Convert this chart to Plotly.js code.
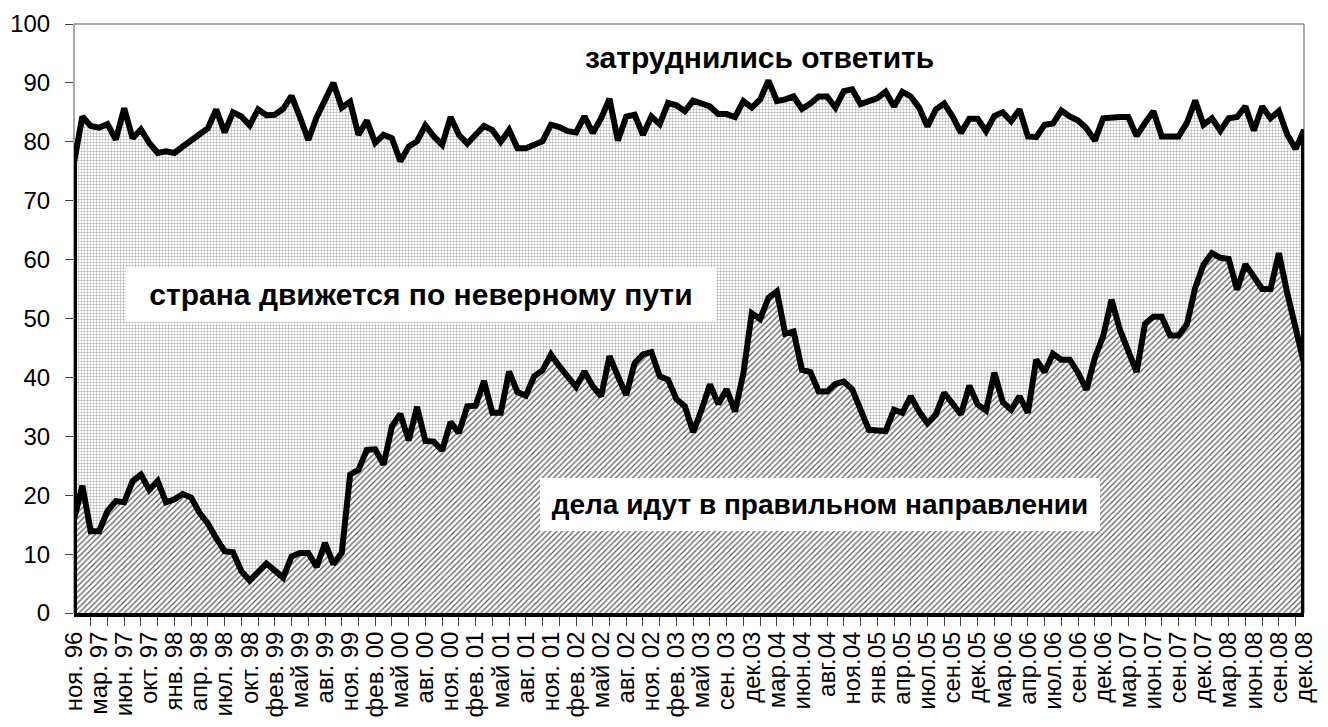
<!DOCTYPE html>
<html>
<head>
<meta charset="utf-8">
<script src="https://cdn.plot.ly/plotly-3.0.1.min.js"></script>
<style>
  html, body { margin: 0; padding: 0; background: #fff; }
  #chart { width: 1328px; height: 727px; }
</style>
</head>
<body>
<div id="chart"></div>
<script>
// one label every 3rd survey wave
const tickLabels = [
  'ноя. 96', 'мар. 97', 'июн. 97', 'окт. 97', 'янв. 98', 'апр. 98', 'июл. 98', 'окт. 98',
  'фев. 99', 'май 99', 'авг. 99', 'ноя. 99', 'фев. 00', 'май 00', 'авг. 00', 'ноя. 00',
  'фев. 01', 'май 01', 'авг. 01', 'ноя. 01', 'фев. 02', 'май 02', 'авг. 02', 'ноя. 02',
  'фев. 03', 'май 03', 'сен. 03', 'дек.03', 'мар.04', 'июн.04', 'авг.04', 'ноя.04',
  'янв.05', 'апр.05', 'июл.05', 'сен.05', 'дек.05', 'мар.06', 'апр.06', 'июл.06',
  'сен.06', 'дек.06', 'мар.07', 'июн.07', 'сен.07', 'дек.07', 'мар.08', 'июн.08',
  'сен.08', 'дек.08'
];

// "дела идут в правильном направлении", %
const right = [
  15.9, 21.6, 13.9, 13.9, 17.3, 19.0, 18.8, 22.4, 23.5, 20.9, 22.4, 18.8, 19.3, 20.2, 19.6, 17.0,
  15.2, 12.7, 10.5, 10.3, 7.1, 5.5, 7.1, 8.4, 7.2, 6.0, 9.6, 10.2, 10.2, 7.8, 11.9, 8.3,
  10.2, 23.5, 24.3, 27.7, 27.8, 25.2, 31.7, 33.8, 29.3, 35.0, 29.2, 29.1, 27.6, 32.4, 30.6, 35.1,
  35.2, 39.4, 34.0, 34.0, 41.0, 37.5, 36.9, 40.2, 41.2, 43.9, 41.9, 40.2, 38.4, 41.0, 38.5, 36.8,
  43.6, 40.2, 37.0, 42.4, 43.9, 44.3, 40.2, 39.6, 36.3, 35.1, 30.7, 34.5, 38.8, 35.5, 38.0, 34.2,
  40.7, 50.9, 49.9, 53.5, 54.6, 47.4, 47.8, 41.3, 40.9, 37.6, 37.6, 38.9, 39.3, 38.0, 34.8, 31.1,
  31.0, 30.9, 34.5, 34.0, 36.8, 34.2, 32.2, 33.7, 37.4, 35.6, 33.7, 38.6, 35.4, 34.4, 40.8, 35.8,
  34.5, 36.8, 34.0, 43.0, 40.9, 44.0, 43.0, 43.0, 40.8, 37.9, 43.3, 47.0, 53.2, 48.1, 44.7, 40.9,
  49.1, 50.3, 50.3, 47.1, 47.1, 49.0, 55.2, 59.2, 61.1, 60.3, 60.1, 54.9, 59.2, 57.2, 55.0, 55.0,
  61.1, 54.3, 48.7, 42.4
];

// "правильном" + "неверному пути" (top of the middle band), %
const rightPlusWrong = [
  76.5, 84.3, 82.7, 82.4, 83.0, 80.4, 85.7, 80.6, 82.1, 79.8, 78.1, 78.4, 78.1, 79.2, 80.2, 81.5,
  82.3, 85.5, 81.6, 85.0, 84.3, 82.8, 85.5, 84.5, 84.6, 85.6, 87.8, 84.2, 80.3, 84.2, 87.4, 90.0,
  85.8, 86.8, 81.2, 83.6, 79.8, 81.2, 80.6, 76.7, 79.2, 80.1, 82.8, 80.9, 79.5, 84.2, 81.2, 79.7,
  81.2, 82.7, 82.0, 80.0, 82.0, 78.9, 78.9, 79.6, 80.1, 82.9, 82.5, 81.8, 81.6, 84.3, 81.5, 84.0,
  87.3, 80.2, 84.3, 84.6, 81.2, 84.3, 83.0, 86.6, 86.2, 85.2, 87.0, 86.5, 86.0, 84.7, 84.7, 84.2,
  86.9, 85.8, 87.2, 90.4, 86.9, 87.2, 87.7, 85.6, 86.5, 87.7, 87.7, 85.8, 88.6, 88.9, 86.4, 86.9,
  87.4, 88.5, 86.0, 88.5, 87.7, 85.8, 82.6, 85.5, 86.5, 84.3, 81.5, 83.9, 83.9, 81.8, 84.4, 85.0,
  83.5, 85.5, 80.9, 80.8, 82.9, 83.1, 85.3, 84.3, 83.6, 82.3, 80.2, 84.0, 84.2, 84.2, 84.2, 81.0,
  83.2, 85.2, 80.9, 80.9, 80.9, 83.2, 87.0, 82.9, 84.0, 81.9, 84.0, 84.2, 86.0, 81.9, 86.0, 84.0,
  85.2, 81.2, 78.8, 82.0
];

const FONT = "'Liberation Sans', Arial, sans-serif";
const last = right.length - 1;
const idx = right.map((_, i) => i);
// drop both series to zero at the ends so the outline closes like the original area chart
const xs = [0, ...idx, last];
const lowerY = [0, ...right, 0];
const upperY = [0, ...rightPlusWrong, 0];
// labels sit on every 3rd wave; numeric tick text is swapped for the date label
const aliases = {};
tickLabels.forEach((t, i) => { aliases[String(i * 3)] = t; });

const data = [
  {
    type: 'scatter',
    mode: 'lines',
    x: xs,
    y: lowerY,
    fill: 'tozeroy',
    fillcolor: '#ffffff',
    fillpattern: { shape: '/', fgcolor: '#5a5a5a', bgcolor: '#ffffff', size: 4, solidity: 0.3 },
    line: { color: '#000', width: 6 },
    hoverinfo: 'skip',
    showlegend: false,
  },
  {
    type: 'scatter',
    mode: 'lines',
    x: xs,
    y: upperY,
    fill: 'tonexty',
    fillcolor: '#ffffff',
    fillpattern: { shape: '+', fgcolor: '#a8a8a8', bgcolor: '#ffffff', size: 3, solidity: 0.3 },
    line: { color: '#000', width: 6 },
    hoverinfo: 'skip',
    showlegend: false,
  },
];

const labelBox = {
  xref: 'x', yref: 'y', showarrow: false,
  bgcolor: '#ffffff', borderwidth: 0, borderpad: 0,
  font: { family: FONT, size: 30, color: '#000', weight: 'bold' },
};

const layout = {
  width: 1328,
  height: 727,
  paper_bgcolor: '#fff',
  plot_bgcolor: '#fff',
  margin: { l: 74, r: 24, t: 24, b: 114, autoexpand: false },
  font: { family: FONT, size: 24, color: '#000' },
  showlegend: false,
  xaxis: {
    range: [0, last],
    tickmode: 'linear',
    tick0: 0,
    dtick: 3,
    labelalias: aliases,
    tickangle: -90,
    ticks: 'inside',
    ticklen: 1,
    tickcolor: 'rgba(0,0,0,0)',
    ticklabelstandoff: 5,
    // tick marks every 2nd wave
    minor: {
      tickmode: 'linear',
      tick0: 0,
      dtick: 2,
      ticks: 'outside',
      ticklen: 9,
      tickwidth: 1,
      tickcolor: '#444',
      showgrid: false,
    },
    showgrid: false,
    zeroline: false,
    showline: true,
    linecolor: '#000',
    linewidth: 4,
    automargin: false,
    tickfont: { family: FONT, size: 24, color: '#000' },
  },
  yaxis: {
    range: [0, 100],
    dtick: 10,
    ticks: 'outside',
    ticklen: 8,
    tickcolor: '#444',
    ticklabelstandoff: 10,
    showgrid: false,
    zeroline: false,
    showline: false,
    automargin: false,
    tickfont: { family: FONT, size: 24, color: '#000' },
  },
  shapes: [
    { type: 'rect', xref: 'paper', yref: 'paper', x0: 0, x1: 1, y0: 0, y1: 1,
      line: { color: '#555', width: 1 }, layer: 'below' },
  ],
  annotations: [
    Object.assign({}, labelBox, { x: 81.9, y: 94.3, text: 'затруднились ответить' }),
    Object.assign({}, labelBox, { x: 41.5, y: 54.0, width: 590, height: 55, text: 'страна движется по неверному пути' }),
    Object.assign({}, labelBox, { x: 89.2, y: 18.5, width: 560, height: 53, text: 'дела идут в правильном направлении',
      font: Object.assign({}, labelBox.font, { size: 28 }) }),
  ],
};

Plotly.newPlot('chart', data, layout, { displayModeBar: false, staticPlot: true });
</script>
</body>
</html>
